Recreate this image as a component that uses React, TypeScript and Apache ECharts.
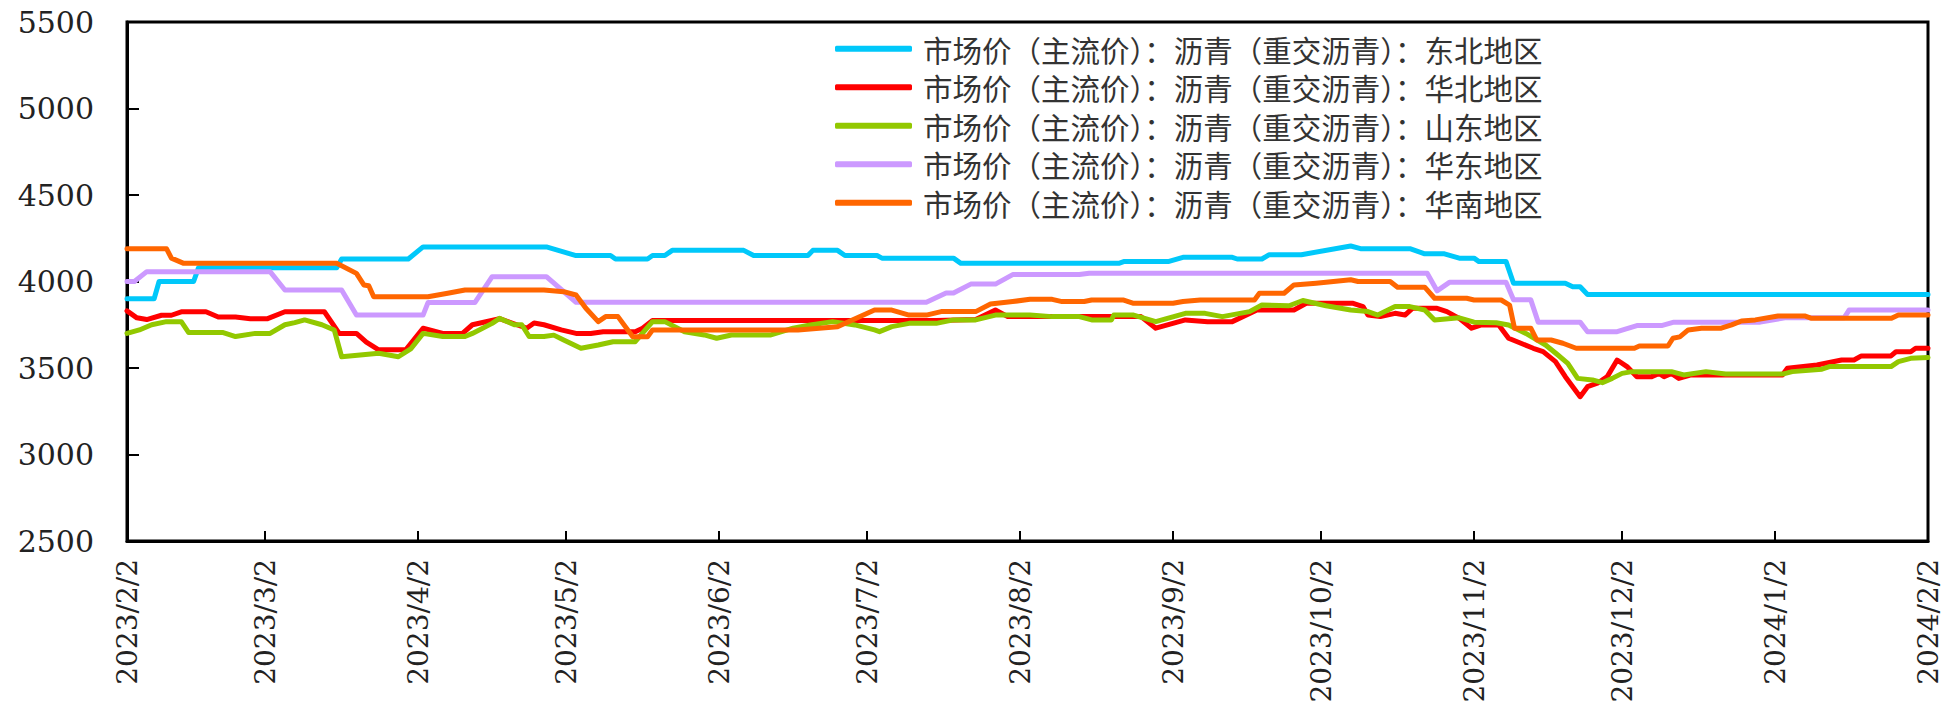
import React, { useEffect, useRef } from "react";
import * as echarts from "echarts";

// x values are days counted from 2023/2/2
const START = Date.UTC(2023, 1, 2);
const DAY = 86400000;

const tickLabels = [
  "2023/2/2", "2023/3/2", "2023/4/2", "2023/5/2", "2023/6/2", "2023/7/2", "2023/8/2",
  "2023/9/2", "2023/10/2", "2023/11/2", "2023/12/2", "2024/1/2", "2024/2/2",
];

const yMin = 2500;
const yMax = 5500;
const yStep = 500;

const seriesNames = [
  "市场价（主流价）：沥青（重交沥青）：东北地区",
  "市场价（主流价）：沥青（重交沥青）：华北地区",
  "市场价（主流价）：沥青（重交沥青）：山东地区",
  "市场价（主流价）：沥青（重交沥青）：华东地区",
  "市场价（主流价）：沥青（重交沥青）：华南地区",
];
const seriesColors = ["#00C8FA", "#FF0000", "#92C800", "#CC99FF", "#FF6600"];

const northeast: [number, number][] = [
  [0, 3900], [5.5, 3900], [6.5, 4000], [13.5, 4000], [14.5, 4080], [42.5, 4080], [43.5, 4130],
  [57, 4130], [60, 4200], [85, 4200], [91, 4150], [98, 4150], [99, 4130], [105.5, 4130],
  [106.5, 4150], [109, 4150], [110.5, 4180], [125, 4180], [127, 4150], [138, 4150], [139, 4180],
  [144, 4180], [145.5, 4150], [152, 4150], [153, 4135], [167.5, 4135], [169, 4105], [201, 4105],
  [202, 4115], [211, 4115], [214, 4140], [224, 4140], [225, 4130], [230, 4130], [231.5, 4155],
  [238, 4155], [248, 4205], [250, 4190], [260, 4190], [263, 4160], [267, 4160], [270, 4135],
  [273, 4135], [274, 4115], [279.5, 4115], [281, 3990], [291.5, 3990], [293, 3970], [294.5, 3970],
  [296, 3925], [365, 3925],
];

const north: [number, number][] = [
  [0, 3830], [2, 3790], [4, 3780], [7, 3805], [9, 3805], [11, 3825], [16, 3825], [18.5, 3795],
  [22, 3795], [25, 3785], [28.5, 3785], [32, 3825], [40, 3825], [43, 3700], [46.5, 3700],
  [48.5, 3650], [51, 3605], [56.5, 3605], [60, 3730], [64, 3700], [68, 3700], [70, 3750],
  [75.5, 3785], [79, 3750], [81, 3730], [82.5, 3760], [84.5, 3750], [88, 3720], [91, 3700],
  [94, 3700], [96.5, 3710], [103, 3710], [104.5, 3730], [106.5, 3775], [164, 3775], [172, 3780],
  [176, 3835], [178.5, 3797], [205.5, 3797], [208.5, 3730], [214.5, 3778], [219, 3768],
  [224, 3768], [229, 3835], [236.5, 3835], [239, 3874], [248.5, 3874], [250.5, 3855],
  [251.5, 3806], [254, 3797], [257, 3816], [259, 3806], [260.5, 3845], [265.5, 3845],
  [267.5, 3826], [270, 3787], [272.5, 3730], [274.5, 3749], [278, 3749], [280, 3672],
  [282.5, 3643], [285, 3614], [287, 3595], [289.5, 3537], [291.5, 3450], [294.5, 3334],
  [296, 3392], [298, 3412], [300, 3450], [302, 3546], [304, 3508], [306, 3450], [309, 3450],
  [310.5, 3469], [311.5, 3450], [313, 3469], [314.5, 3440], [317, 3460], [335.5, 3460],
  [336.5, 3498], [342.5, 3517], [347.5, 3546], [350, 3546], [351.5, 3570], [357.5, 3570],
  [358.5, 3594], [361.5, 3594], [362.5, 3614], [365, 3614],
];

const shandong: [number, number][] = [
  [0, 3700], [2.5, 3720], [5, 3750], [8, 3768], [11, 3768], [12.5, 3705], [19.5, 3705],
  [22, 3682], [26, 3700], [29, 3700], [32, 3750], [34, 3762], [36, 3778], [39.5, 3750],
  [42, 3720], [43.5, 3565], [51, 3585], [55, 3565], [57.5, 3610], [60, 3700], [64, 3682],
  [68.5, 3682], [70, 3700], [74, 3758], [75.5, 3787], [78.5, 3750], [80, 3750], [81.5, 3682],
  [84.5, 3682], [86.5, 3690], [88.5, 3662], [92, 3614], [95.5, 3633], [98.5, 3652], [103, 3652],
  [106.5, 3768], [109, 3768], [113, 3710], [117, 3691], [119.5, 3672], [122.5, 3691],
  [130.5, 3691], [135, 3730], [138.5, 3749], [143, 3768], [147.5, 3749], [151.5, 3720],
  [152.5, 3710], [155, 3739], [158.5, 3758], [164, 3758], [167.5, 3778], [172, 3778],
  [176, 3806], [183, 3806], [187.5, 3797], [193, 3797], [195.5, 3778], [199.5, 3778],
  [200, 3806], [204, 3806], [208.5, 3768], [214.5, 3816], [218.5, 3816], [222, 3797],
  [227.5, 3826], [230, 3864], [235.5, 3860], [238.3, 3890], [243, 3860], [248, 3835],
  [251.5, 3826], [253.5, 3806], [257, 3855], [260, 3855], [263, 3835], [265, 3778], [270, 3790],
  [273, 3765], [277.5, 3762], [280, 3749], [283.5, 3700], [287.5, 3633], [290, 3575],
  [292, 3527], [294, 3440], [297, 3431], [299, 3415], [301, 3440], [303, 3469], [305, 3479],
  [313, 3479], [315.5, 3460], [320, 3479], [324, 3465], [335.5, 3465], [337.5, 3479],
  [343.5, 3493], [345, 3508], [357.5, 3508], [359, 3537], [361.5, 3556], [365, 3560],
];

const east: [number, number][] = [
  [0, 4000], [1.5, 4000], [4, 4057], [29, 4057], [32, 3951], [43.5, 3951], [46.5, 3806],
  [60, 3806], [61, 3878], [70.5, 3878], [74, 4028], [85, 4028], [91, 3880], [162, 3880],
  [166, 3933], [167.5, 3933], [171, 3985], [176, 3985], [179.5, 4040], [193, 4040], [195, 4048],
  [263.5, 4048], [265.5, 3946], [268, 3995], [279.5, 3995], [281, 3894], [284.5, 3894],
  [286, 3765], [294.5, 3765], [296, 3710], [302, 3710], [306, 3745], [311, 3745], [313.5, 3765],
  [331, 3765], [336, 3790], [348, 3790], [349, 3835], [365, 3835],
];

const south: [number, number][] = [
  [0, 4190], [8, 4190], [9, 4135], [11.5, 4105], [42.5, 4105], [46.5, 4047], [48, 3980],
  [49, 3975], [50, 3912], [61, 3912], [65, 3932], [68.5, 3951], [84.5, 3951], [88.5, 3941],
  [91, 3922], [93, 3845], [95.5, 3768], [97, 3797], [99.5, 3797], [102.5, 3681], [105.5, 3681],
  [106.5, 3720], [136, 3720], [144, 3739], [147, 3778], [151.5, 3835], [155, 3835],
  [158.5, 3806], [162, 3806], [165, 3826], [172, 3826], [175, 3870], [179.5, 3884], [183, 3897],
  [187.5, 3897], [189.5, 3884], [194, 3884], [195.5, 3893], [202, 3893], [204, 3874], [212, 3874],
  [214, 3884], [217.5, 3893], [228.5, 3893], [229.5, 3932], [234.5, 3932], [236.5, 3980],
  [241, 3990], [248, 4010], [249.5, 4000], [256, 4000], [257.5, 3967], [263, 3967], [265, 3903],
  [271.5, 3903], [273, 3893], [278.5, 3893], [280.2, 3864], [281.2, 3730], [284.5, 3730],
  [285.7, 3662], [288.6, 3662], [291, 3643], [293.7, 3614], [305.5, 3614], [306.5, 3627],
  [312.3, 3627], [313.3, 3672], [314.7, 3680], [316.4, 3720], [319.1, 3730], [323.1, 3730],
  [325.2, 3749], [327.2, 3772], [330, 3778], [334.6, 3801], [340, 3801], [341.4, 3787],
  [357.6, 3787], [359, 3806], [365, 3806],
];

const seriesData = [northeast, north, shandong, east, south];

function dayOf(label: string): number {
  const [y, m, d] = label.split("/").map(Number);
  return Math.round((Date.UTC(y, m - 1, d) - START) / DAY);
}

export default function App() {
  const ref = useRef<HTMLDivElement>(null);

  useEffect(() => {
    if (!ref.current) return;
    const chart = echarts.init(ref.current, undefined, { renderer: "svg" });
    const tickDays = tickLabels.map(dayOf);
    const labelByDay: Record<number, string> = {};
    tickDays.forEach((d, i) => (labelByDay[d] = tickLabels[i]));
    const lastDay = tickDays[tickDays.length - 1];

    chart.setOption({
      animation: false,
      backgroundColor: "#ffffff",
      grid: {
        left: 127,
        right: 21,
        top: 22,
        bottom: 166,
        show: true,
        borderColor: "#000",
        borderWidth: 3,
        backgroundColor: "transparent",
        outerBoundsMode: "none",
      },
      legend: {
        orient: "vertical",
        left: 835,
        top: 34,
        padding: 0,
        itemWidth: 77,
        itemHeight: 6,
        itemGap: 9,
        icon: "roundRect",
        selectedMode: false,
        data: seriesNames,
        textStyle: {
          fontFamily: "Noto Sans CJK SC",
          fontSize: 29.5,
          lineHeight: 29,
          color: "#333",
          padding: [0, 0, 0, 6],
        },
      },
      xAxis: {
        type: "value",
        min: 0,
        max: lastDay,
        splitLine: { show: false },
        axisLine: { show: true, onZero: false, lineStyle: { color: "#000", width: 3 } },
        axisTick: {
          show: true,
          inside: true,
          length: 10,
          customValues: tickDays,
          lineStyle: { color: "#000", width: 2 },
        },
        axisLabel: {
          customValues: tickDays,
          rotate: 90,
          margin: 18,
          formatter: (v: number) => labelByDay[Math.round(v)] ?? "",
          fontFamily: "DejaVu Serif",
          fontSize: 28,
          color: "#222",
        },
      },
      yAxis: {
        type: "value",
        min: yMin,
        max: yMax,
        interval: yStep,
        splitLine: { show: false },
        axisLine: { show: true, lineStyle: { color: "#000", width: 3 } },
        axisTick: { show: true, inside: true, length: 12, lineStyle: { color: "#000", width: 2 } },
        axisLabel: {
          margin: 33,
          formatter: (v: number) => String(v),
          fontFamily: "DejaVu Serif",
          fontSize: 30,
          color: "#222",
        },
      },
      series: seriesNames.map((name, i) => ({
        name,
        type: "line",
        data: seriesData[i],
        showSymbol: false,
        symbol: "none",
        color: seriesColors[i],
        lineStyle: { color: seriesColors[i], width: 5, join: "round", cap: "round" },
        emphasis: { disabled: true },
      })),
    });

    return () => chart.dispose();
  }, []);

  return (
    <div
      ref={ref}
      style={{ position: "absolute", left: 0, top: 0, width: 1949, height: 707, background: "#fff" }}
    />
  );
}
